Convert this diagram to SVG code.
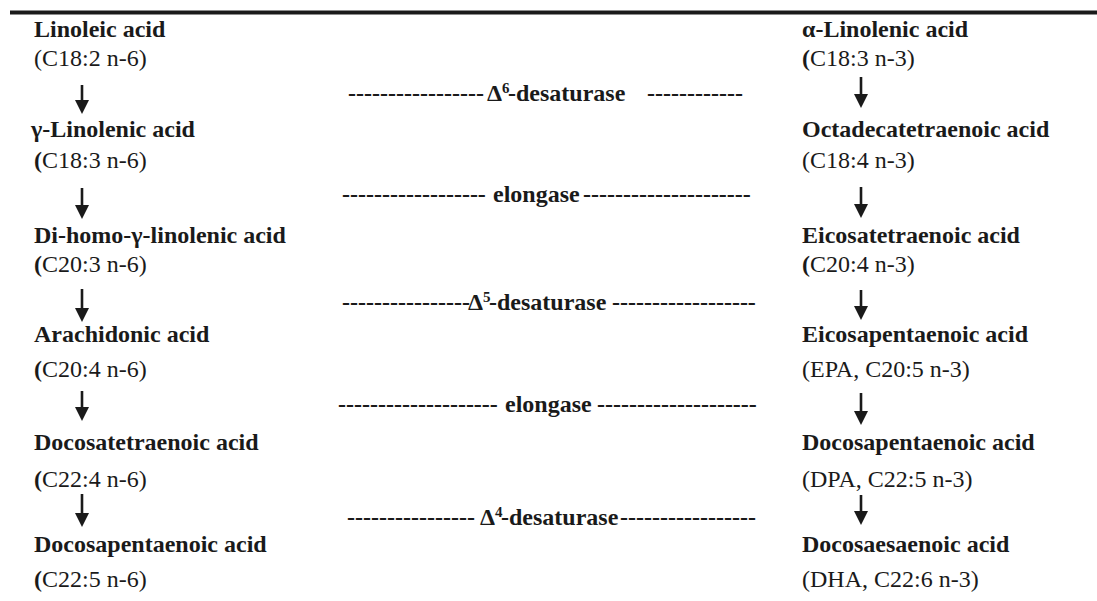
<svg xmlns="http://www.w3.org/2000/svg" width="1097" height="601" viewBox="0 0 1097 601" font-family="Liberation Serif, Times New Roman, serif">
<style>
text{font-family:Liberation Serif, Times New Roman, serif;font-size:24px;fill:#1a1a1a}
.b{font-weight:bold}
.sup{font-size:15px}
.conn line{stroke:#1a1a1a;stroke-width:2.6}
.conn polygon{fill:#1a1a1a}
</style>
<rect x="10" y="10.5" width="1087" height="4" fill="#1a1a1a"/>
<g id="left-1"><text x="34" y="37" class="b">Linoleic acid</text><text x="34" y="66">(C18:2 n-6)</text></g>
<g id="left-2"><text x="31" y="137" class="b">γ-Linolenic acid</text><text x="34" y="168"><tspan class="b">(</tspan>C18:3 n-6)</text></g>
<g id="left-3"><text x="34" y="243" class="b">Di-homo-γ-linolenic acid</text><text x="34" y="272"><tspan class="b">(</tspan>C20:3 n-6)</text></g>
<g id="left-4"><text x="34" y="342" class="b">Arachidonic acid</text><text x="34" y="377"><tspan class="b">(</tspan>C20:4 n-6)</text></g>
<g id="left-5"><text x="34" y="450" class="b">Docosatetraenoic acid</text><text x="34" y="487"><tspan class="b">(</tspan>C22:4 n-6)</text></g>
<g id="left-6"><text x="34" y="552" class="b">Docosapentaenoic acid</text><text x="34" y="587"><tspan class="b">(</tspan>C22:5 n-6)</text></g>
<g id="right-1"><text x="802" y="37" class="b">α-Linolenic acid</text><text x="802" y="66"><tspan class="b">(</tspan>C18:3 n-3)</text></g>
<g id="right-2"><text x="802" y="137" class="b">Octadecatetraenoic acid</text><text x="802" y="168">(C18:4 n-3)</text></g>
<g id="right-3"><text x="802" y="243" class="b">Eicosatetraenoic acid</text><text x="802" y="272"><tspan class="b">(</tspan>C20:4 n-3)</text></g>
<g id="right-4"><text x="802" y="342" class="b">Eicosapentaenoic acid</text><text x="802" y="377">(EPA, C20:5 n-3)</text></g>
<g id="right-5"><text x="802" y="450" class="b">Docosapentaenoic acid</text><text x="802" y="487">(DPA, C22:5 n-3)</text></g>
<g id="right-6"><text x="802" y="552" class="b">Docosaesaenoic acid</text><text x="802" y="587">(DHA, C22:6 n-3)</text></g>
<g id="enzymes">
<text class="b" y="101"><tspan x="348">-----------------</tspan><tspan x="487">Δ</tspan><tspan class="sup" dy="-8">6</tspan><tspan x="508" dy="8">-desaturase</tspan><tspan x="647">------------</tspan></text>
<text class="b" y="202"><tspan x="342">------------------</tspan><tspan x="493">elongase</tspan><tspan x="583">---------------------</tspan></text>
<text class="b" y="310"><tspan x="342">----------------</tspan><tspan x="468">Δ</tspan><tspan class="sup" dy="-8">5</tspan><tspan x="489" dy="8">-desaturase</tspan><tspan x="612">------------------</tspan></text>
<text class="b" y="412"><tspan x="338">--------------------</tspan><tspan x="505">elongase</tspan><tspan x="597">--------------------</tspan></text>
<text class="b" y="525"><tspan x="347">----------------</tspan><tspan x="480">Δ</tspan><tspan class="sup" dy="-8">4</tspan><tspan x="501" dy="8">-desaturase</tspan><tspan x="620">-----------------</tspan></text>
</g>
<g id="connectors" class="conn">
<line x1="82" y1="85" x2="82" y2="102"/><polygon points="75,100 89,100 82,114"/>
<line x1="82" y1="188" x2="82" y2="207"/><polygon points="75,205 89,205 82,219"/>
<line x1="82" y1="289" x2="82" y2="310"/><polygon points="75,308 89,308 82,322"/>
<line x1="82" y1="391" x2="82" y2="409"/><polygon points="75,407 89,407 82,421"/>
<line x1="82" y1="494" x2="82" y2="515"/><polygon points="75,513 89,513 82,527"/>
<line x1="861" y1="77" x2="861" y2="96"/><polygon points="854,94 868,94 861,108"/>
<line x1="861" y1="187" x2="861" y2="206"/><polygon points="854,204 868,204 861,218"/>
<line x1="861" y1="290" x2="861" y2="308"/><polygon points="854,306 868,306 861,320"/>
<line x1="861" y1="393" x2="861" y2="413"/><polygon points="854,411 868,411 861,425"/>
<line x1="861" y1="495" x2="861" y2="513"/><polygon points="854,511 868,511 861,525"/>
</g>
</svg>
